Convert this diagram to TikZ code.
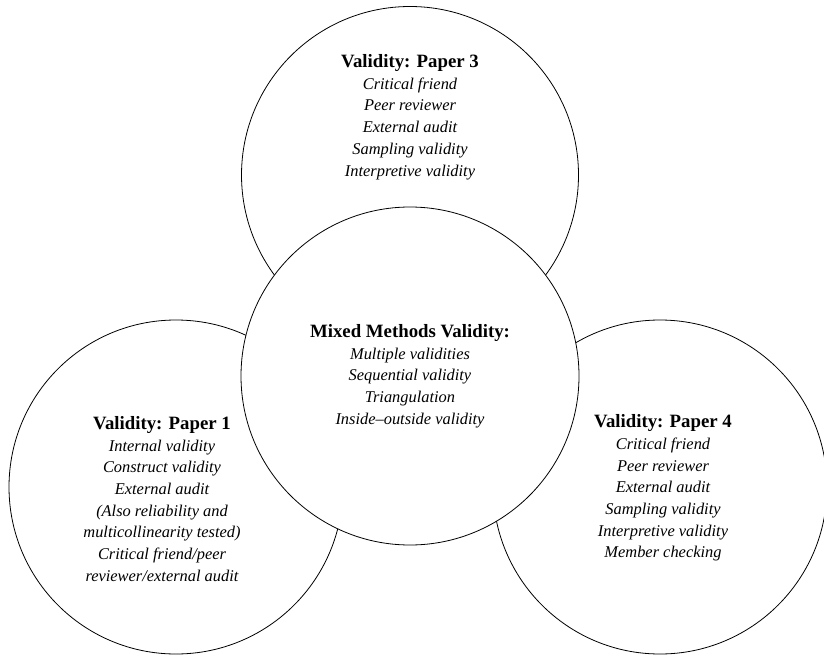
\documentclass[tikz,border=0pt]{standalone}
\usepackage{fontspec}
\setmainfont{Liberation Serif}
\newcommand\blockhead[1]{{\fontsize{18.8}{21.7}\selectfont\bfseries\upshape #1}}
\begin{document}
\begin{tikzpicture}[x=1pt,y=-1pt,
  ring/.style={circle,draw=black,line width=0.8pt,fill=white,inner sep=0pt,minimum size=#1},
  ring/.default=336pt,
  blocktext/.style={align=center,inner sep=0pt,
    font=\fontsize{16.4}{21.7}\selectfont\itshape}]
\useasboundingbox (0,0) rectangle (824,655);

% outer circles first, the central circle is drawn over them
\node[ring=337pt] (p3) at (410,175) {};
\node[ring=334pt] (p1) at (176,487) {};
\node[ring=334pt] (p4) at (660,487) {};
\node[ring=338pt] (mm) at (410,376) {};

% texts
\node[blocktext] (t3) at (410,117) {\blockhead{Validity: Paper 3}\\
  Critical friend\\Peer reviewer\\External audit\\Sampling validity\\Interpretive validity};
\node[blocktext] (tm) at (410,376) {\blockhead{Mixed Methods Validity:}\\
  Multiple validities\\Sequential validity\\Triangulation\\Inside--outside validity};
\node[blocktext] (t1) at (162,499) {\blockhead{Validity: Paper 1}\\
  Internal validity\\Construct validity\\External audit\\(Also reliability and\\
  multicollinearity tested)\\Critical friend/peer\\reviewer/external audit};
\node[blocktext] (t4) at (663,488) {\blockhead{Validity: Paper 4}\\
  Critical friend\\Peer reviewer\\External audit\\Sampling validity\\
  Interpretive validity\\Member checking};
\end{tikzpicture}
\end{document}
